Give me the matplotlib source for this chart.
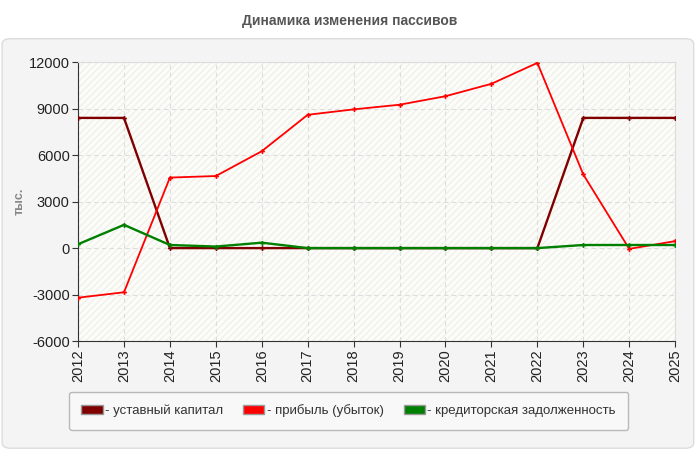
import matplotlib
matplotlib.use("Agg")
import matplotlib.pyplot as plt
from matplotlib.patches import FancyBboxPatch, Patch

plt.rcParams['font.family'] = ['Liberation Sans', 'DejaVu Sans']

years = list(range(2012, 2026))
capital = [8400, 8400, 0, 0, 0, 0, 0, 0, 0, 0, 0, 8400, 8400, 8400]
profit = [-3200, -2850, 4550, 4650, 6250, 8600, 8950, 9250, 9800, 10600, 11950, 4750, -50, 450]
payables = [250, 1500, 200, 100, 350, 0, 0, 0, 0, 0, 0, 200, 200, 200]
series_names = ["- уставный капитал", "- прибыль (убыток)", "- кредиторская задолженность"]
series_colors = ["#800000", "#ff0000", "#008000"]
yticks = [-6000, -3000, 0, 3000, 6000, 9000, 12000]

fig = plt.figure(figsize=(7, 4.5), dpi=100)
fig.patch.set_facecolor("white")
panel = FancyBboxPatch((0.003, 0.004), 0.988, 0.91, boxstyle="round,pad=0,rounding_size=0.012",
                       transform=fig.transFigure, facecolor="#f4f4f4", edgecolor="#dcdcdc", lw=1,
                       zorder=-10)
fig.patches.append(panel)
fig.text(0.5, 0.953, "Динамика изменения пассивов", ha="center", va="center",
         fontsize=10, fontweight="bold", color="#555555")

ax = fig.add_axes([0.1115, 0.242, 0.853, 0.62])
ax.set_facecolor("#fdfdf8")
ax.fill_between([2012, 2025], -6000, 12000, facecolor="none", edgecolor="#efefef", hatch="/////", lw=0, zorder=0)

for vals, col in zip([capital, profit, payables], series_colors):
    ax.plot(years, vals, color=col, lw=1.7 if col != "#ff0000" else 1.3, marker="P", ms=3.5,
            mew=0, zorder=3)

ax.set_xlim(2012, 2025)
ax.set_ylim(-6000, 12000)
ax.set_yticks(yticks)
ax.set_yticklabels([str(v) for v in yticks], fontsize=10.5)
ax.set_xticks(years)
ax.set_xticklabels([str(y) for y in years], rotation=90, fontsize=10.5)
ax.grid(True, color="#dddddd", ls=(0, (4, 3)), lw=0.8)
ax.set_axisbelow(True)
for s in ("top", "right"):
    ax.spines[s].set_color("#dddddd")
for s in ("left", "bottom"):
    ax.spines[s].set_color("#333333")
ax.tick_params(length=4, color="#333333", labelcolor="#222222", pad=2)
ax.set_ylabel("тыс.", fontsize=9, fontweight="bold", color="#888888")
ax.yaxis.set_label_coords(-0.088, 0.5)

handles = [Patch(facecolor=c, edgecolor="#999999", label=n) for n, c in zip(series_names, series_colors)]
leg = fig.legend(handles=handles, loc="center", bbox_to_anchor=(0.498, 0.087), ncol=3,
                 fontsize=9.5, frameon=True, fancybox=True, handlelength=1.6, handleheight=0.7,
                 handletextpad=0.2, columnspacing=1.5, borderpad=0.95)
leg.get_frame().set_facecolor("#fafafa")
leg.get_frame().set_edgecolor("#aaaaaa")
for t in leg.get_texts():
    t.set_color("#333333")

fig.savefig("out.png", dpi=100, facecolor="white")
